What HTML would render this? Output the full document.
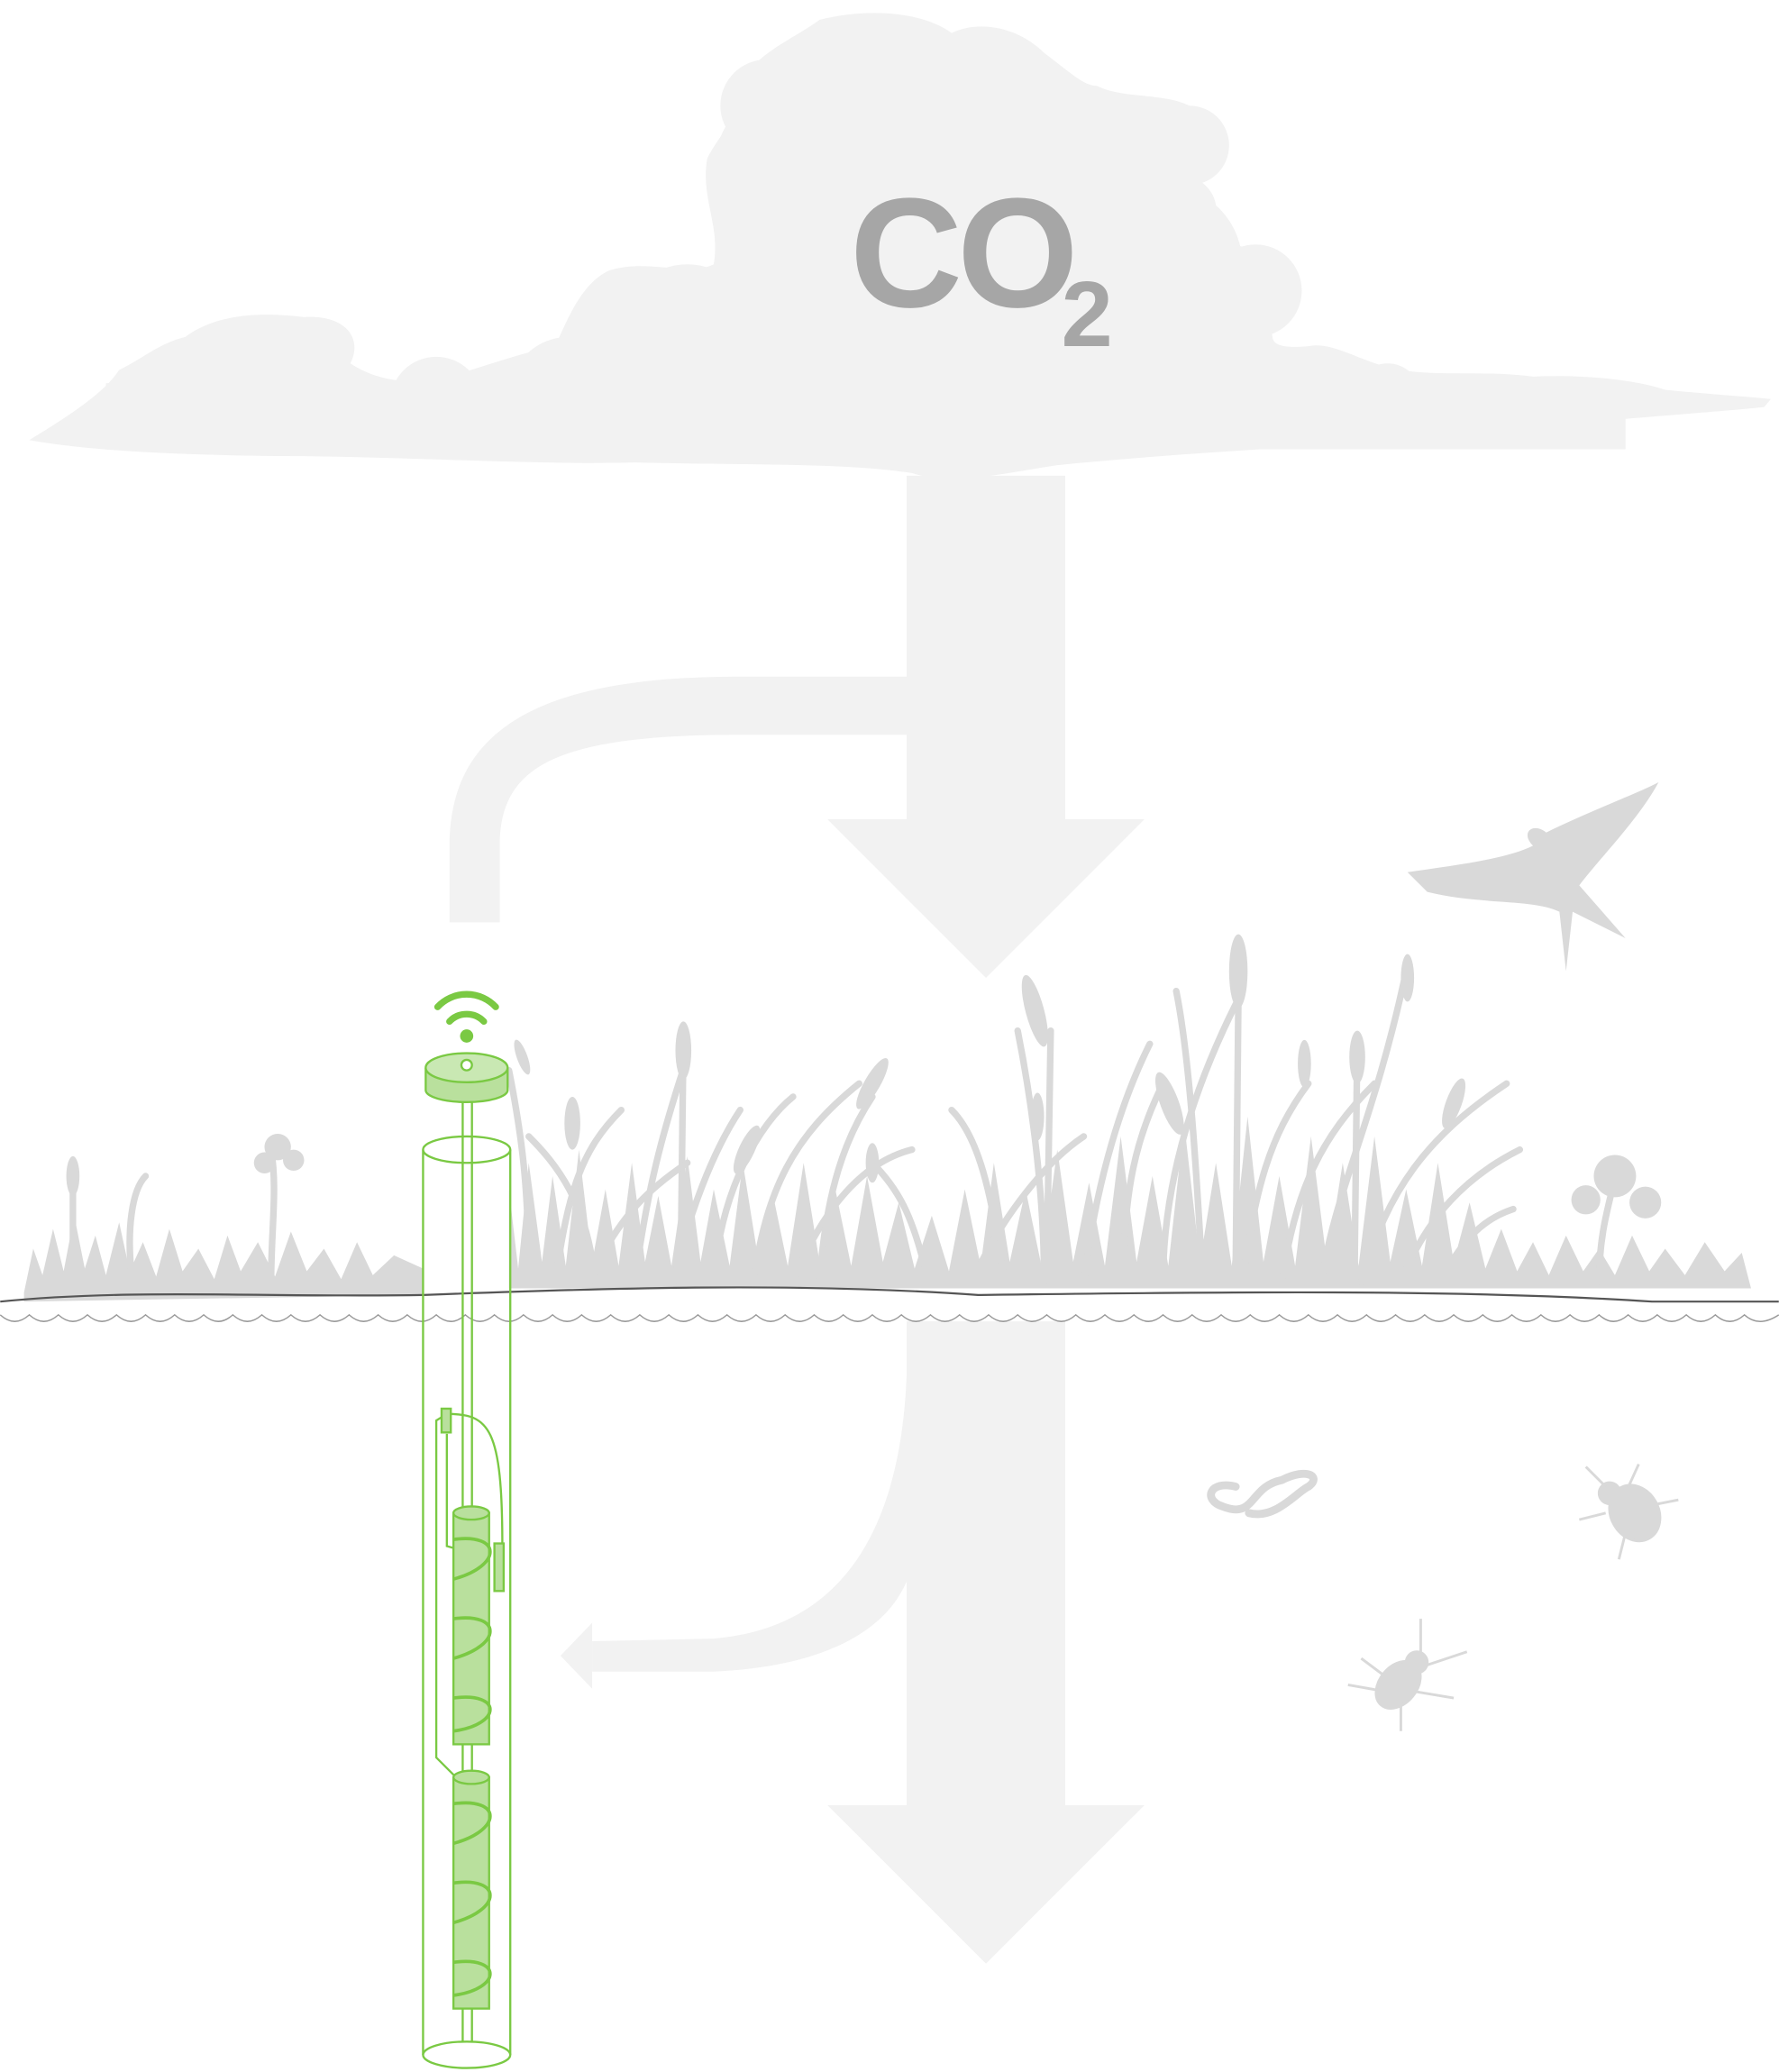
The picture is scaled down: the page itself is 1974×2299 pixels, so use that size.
<!DOCTYPE html>
<html><head><meta charset="utf-8"><style>
html,body{margin:0;padding:0;background:#fff;}
svg{display:block;}
</style></head><body>
<svg width="1974" height="2299" viewBox="0 0 1346 1568" xmlns="http://www.w3.org/2000/svg">
<!-- cloud -->
<g fill="#f2f2f2">
<path d="M22,333 C60,310 80,295 90,280 C110,270 120,260 140,255 C160,240 190,235 230,240 C260,238 275,255 265,275 C280,285 300,290 320,288 C350,285 380,270 420,262 C430,240 440,215 460,205 C490,195 520,210 540,200 C545,170 530,150 535,120 C545,100 560,90 555,70 C570,40 600,30 620,15 C660,5 700,10 720,25 C740,15 770,20 790,40 C810,55 820,65 830,65 C850,75 880,70 900,80 C920,95 925,120 905,135 C930,150 920,175 905,185 C950,180 980,200 970,230 C960,255 955,265 990,262 C1010,258 1030,275 1060,280 C1090,285 1120,280 1160,285 C1200,283 1240,288 1260,295 C1290,298 1320,300 1340,302 L1335,308 C1300,312 1200,318 1100,330 C1000,338 900,342 800,352 C760,358 720,368 690,358 C640,350 560,352 480,350 C400,352 300,345 200,345 C120,344 60,340 22,333 Z"/>
<circle cx="610" cy="130" r="70"/><circle cx="700" cy="100" r="75"/><circle cx="800" cy="140" r="75"/><circle cx="880" cy="200" r="60"/>
<circle cx="520" cy="250" r="50"/><circle cx="600" cy="240" r="60"/><circle cx="700" cy="230" r="80"/><circle cx="820" cy="240" r="70"/>
<circle cx="200" cy="290" r="45"/><circle cx="330" cy="305" r="35"/><circle cx="430" cy="300" r="45"/><circle cx="1050" cy="300" r="25"/>
<circle cx="580" cy="80" r="35"/><circle cx="900" cy="110" r="30"/><circle cx="950" cy="220" r="35"/>
<rect x="80" y="290" width="1150" height="50"/>
</g>
<text x="643" y="232" font-family="Liberation Sans, sans-serif" font-weight="bold" font-size="118" fill="#a6a6a6" letter-spacing="-4">CO</text>
<text x="803" y="262" font-family="Liberation Sans, sans-serif" font-weight="bold" font-size="70" fill="#a6a6a6">2</text>
<!-- top arrow -->
<g fill="#f2f2f2">
<rect x="686" y="360" width="120" height="262"/>
<polygon points="626,620 866,620 746,740"/>
<path d="M686,512 L560,512 C420,512 340,545 340,640 L340,698 L378,698 L378,640 C378,580 420,556 560,556 L686,556 Z"/>
<rect x="686" y="1000" width="120" height="368"/>
<polygon points="626,1366 866,1366 746,1486"/>
<path d="M686,1000 C690,1120 660,1230 540,1240 L448,1242 L448,1265 L540,1265 C690,1258 690,1180 692,1175 L720,1000 Z"/>
<polygon points="448,1228 448,1278 424,1253"/>
</g>
<!-- vegetation -->
<g fill="#d9d9d9" stroke="none">
<path d="M18,978 L25,945 32,965 40,930 48,962 56,920 64,960 72,935 80,965 90,925 98,962 108,940 118,966 128,930 138,962 150,945 162,968 172,935 182,962 195,940 208,966 220,932 232,962 245,945 258,968 270,940 282,965 298,950 320,960 320,980 18,985Z"/>
<path d="M385,975 L385,900 392,960 400,880 410,955 418,890 428,958 438,870 448,955 458,900 468,958 478,880 488,955 498,905 508,958 520,875 530,955 540,900 552,958 562,880 574,955 585,905 596,958 608,880 620,955 632,900 644,958 656,890 668,955 680,910 692,960 705,920 718,962 730,900 742,958 752,880 764,955 776,900 788,958 800,870 812,955 824,895 836,958 848,860 860,955 872,890 884,958 896,850 908,955 920,880 932,958 944,845 956,955 968,890 980,958 992,860 1004,955 1016,880 1028,958 1040,860 1052,955 1064,900 1076,958 1088,880 1100,955 1112,910 1124,960 1136,930 1148,962 1160,940 1172,965 1185,935 1198,962 1210,945 1222,965 1235,935 1248,962 1260,945 1275,965 1290,940 1305,962 1318,948 1325,975Z"/>
</g>
<g fill="none" stroke="#d9d9d9" stroke-width="5" stroke-linecap="round">
<path d="M400,970 C400,900 395,860 385,810"/><path d="M420,970 C430,900 440,870 470,840"/><path d="M450,970 C445,910 420,880 400,860"/>
<path d="M480,970 C490,900 500,860 520,800"/><path d="M510,970 C520,920 540,870 560,840"/><path d="M540,970 C545,900 575,850 600,830"/>
<path d="M570,970 C580,900 600,860 650,820"/><path d="M600,970 C620,920 650,880 690,870"/><path d="M620,970 C625,900 640,860 660,830"/>
<path d="M760,970 C750,900 740,860 720,840"/><path d="M790,970 C790,900 780,830 770,780"/><path d="M820,970 C830,890 850,830 870,790"/>
<path d="M850,970 C850,900 860,860 880,820"/><path d="M880,970 C880,900 900,830 935,760"/><path d="M910,970 C905,880 900,800 890,750"/>
<path d="M940,970 C950,900 960,860 990,820"/><path d="M970,970 C980,900 1000,860 1040,820"/><path d="M1000,970 C1010,900 1040,850 1065,730"/>
<path d="M1030,970 C1050,900 1080,860 1140,820"/><path d="M1060,970 C1080,920 1110,890 1150,870"/><path d="M1090,970 C1110,930 1130,920 1145,915"/>
<path d="M935,960 L937,760"/><path d="M1025,960 L1027,790"/><path d="M515,960 L517,790"/><path d="M792,960 L795,780"/>
<path d="M100,970 C95,930 100,900 110,890"/><path d="M55,970 L55,890"/><path d="M205,970 C205,930 210,900 205,870"/>
<path d="M1210,970 C1210,940 1215,920 1220,900"/>
<path d="M700,960 C690,920 680,900 660,880"/><path d="M740,960 C760,920 790,880 820,860"/><path d="M450,960 C470,920 490,900 520,880"/>
</g>
<g fill="#d9d9d9">
<ellipse cx="517" cy="795" rx="6" ry="22"/><ellipse cx="937" cy="735" rx="7" ry="28"/>
<ellipse cx="1027" cy="800" rx="6" ry="20"/><ellipse cx="783" cy="765" rx="7" ry="28" transform="rotate(-15 783 765)"/>
<ellipse cx="660" cy="820" rx="6" ry="22" transform="rotate(30 660 820)"/><ellipse cx="565" cy="870" rx="6" ry="20" transform="rotate(25 565 870)"/>
<ellipse cx="433" cy="850" rx="6" ry="20"/><ellipse cx="885" cy="835" rx="7" ry="25" transform="rotate(-20 885 835)"/>
<ellipse cx="987" cy="805" rx="5" ry="18"/><ellipse cx="1065" cy="740" rx="5" ry="18"/>
<ellipse cx="1100" cy="835" rx="6" ry="20" transform="rotate(20 1100 835)"/><ellipse cx="55" cy="890" rx="5" ry="15"/>
<ellipse cx="660" cy="880" rx="5" ry="15"/><ellipse cx="785" cy="845" rx="5" ry="18"/><ellipse cx="395" cy="800" rx="4" ry="14" transform="rotate(-20 395 800)"/>
<circle cx="210" cy="868" r="10"/><circle cx="200" cy="880" r="8"/><circle cx="222" cy="878" r="8"/>
<circle cx="1222" cy="890" r="16"/><circle cx="1200" cy="908" r="11"/><circle cx="1245" cy="910" r="12"/>
</g>
<!-- bird -->
<path fill="#d9d9d9" d="M1065,660 C1100,655 1140,650 1160,640 C1150,630 1160,622 1170,630 C1200,615 1240,600 1255,592 C1240,620 1210,650 1195,670 L1230,710 L1190,690 L1185,735 L1180,690 C1160,680 1120,685 1080,675 Z"/>
<!-- ground line -->
<path d="M0,985 C100,975 200,982 320,980 C450,975 600,970 740,980 C900,978 1100,975 1250,985 L1346,985" fill="none" stroke="#555" stroke-width="1.5"/>
<path d="M0,995 Q11,1005 22,995 Q33,1005 44,995 Q55,1005 66,995 Q77,1005 88,995 Q99,1005 110,995 Q121,1005 132,995 Q143,1005 154,995 Q165,1005 176,995 Q187,1005 198,995 Q209,1005 220,995 Q231,1005 242,995 Q253,1005 264,995 Q275,1005 286,995 Q297,1005 308,995 Q319,1005 330,995 Q341,1005 352,995 Q363,1005 374,995 Q385,1005 396,995 Q407,1005 418,995 Q429,1005 440,995 Q451,1005 462,995 Q473,1005 484,995 Q495,1005 506,995 Q517,1005 528,995 Q539,1005 550,995 Q561,1005 572,995 Q583,1005 594,995 Q605,1005 616,995 Q627,1005 638,995 Q649,1005 660,995 Q671,1005 682,995 Q693,1005 704,995 Q715,1005 726,995 Q737,1005 748,995 Q759,1005 770,995 Q781,1005 792,995 Q803,1005 814,995 Q825,1005 836,995 Q847,1005 858,995 Q869,1005 880,995 Q891,1005 902,995 Q913,1005 924,995 Q935,1005 946,995 Q957,1005 968,995 Q979,1005 990,995 Q1001,1005 1012,995 Q1023,1005 1034,995 Q1045,1005 1056,995 Q1067,1005 1078,995 Q1089,1005 1100,995 Q1111,1005 1122,995 Q1133,1005 1144,995 Q1155,1005 1166,995 Q1177,1005 1188,995 Q1199,1005 1210,995 Q1221,1005 1232,995 Q1243,1005 1254,995 Q1265,1005 1276,995 Q1287,1005 1298,995 Q1309,1005 1320,995 Q1331,1005 1346,995" fill="none" stroke="#999" stroke-width="1"/>
<!-- critters -->
<g fill="none" stroke="#d9d9d9" stroke-width="6" stroke-linecap="round">
<path d="M935,1125 C915,1120 910,1135 925,1140 C950,1150 945,1125 970,1120 C990,1110 1000,1118 990,1125 C980,1130 965,1150 945,1145"/>
</g>
<g fill="#d9d9d9" stroke="#d9d9d9" stroke-width="2">
<ellipse cx="1237" cy="1145" rx="18" ry="22" transform="rotate(-30 1237 1145)"/><circle cx="1218" cy="1130" r="8"/>
<path d="M1215,1125 L1200,1110 M1230,1130 L1240,1108 M1245,1140 L1270,1135 M1230,1160 L1225,1180 M1215,1145 L1195,1150"/>
<ellipse cx="1058" cy="1275" rx="14" ry="20" transform="rotate(40 1058 1275)"/><circle cx="1072" cy="1258" r="8"/>
<path d="M1048,1280 L1020,1275 M1050,1270 L1030,1255 M1060,1285 L1060,1310 M1070,1280 L1100,1285 M1075,1255 L1075,1225 M1080,1260 L1110,1250"/>
</g>
<!-- sensor -->
<g stroke="#7ac943" stroke-width="1.6" fill="none">
<path d="M320,870 L320,1555 M386,870 L386,1555"/>
<ellipse cx="353" cy="870" rx="33" ry="10"/>
<ellipse cx="353" cy="1555" rx="33" ry="10"/>
<path d="M350,830 L350,1140 M357,830 L357,1140 M350,1320 L350,1340 M357,1320 L357,1340 M350,1520 L350,1545 M357,1520 L357,1545"/>
<path d="M338,1070 L330,1075 L330,1330 L345,1345 M338,1070 C370,1070 380,1080 380,1170 M338,1085 L338,1170 L345,1172"/>
<rect x="334" y="1066" width="7" height="18" fill="#b9e09d"/>
<rect x="374" y="1168" width="7" height="36" fill="#b9e09d"/>
<rect x="343" y="1145" width="27" height="175" fill="#b9e09d"/>
<ellipse cx="356.5" cy="1145" rx="13.5" ry="5" fill="#b9e09d"/>
<rect x="343" y="1345" width="27" height="175" fill="#b9e09d"/>
<ellipse cx="356.5" cy="1345" rx="13.5" ry="5" fill="#b9e09d"/>
<path d="M343,1165 C380,1160 380,1185 343,1195 M343,1225 C380,1220 380,1245 343,1255 M343,1285 C380,1280 380,1305 343,1310 M343,1365 C380,1360 380,1385 343,1395 M343,1425 C380,1420 380,1445 343,1455 M343,1485 C380,1480 380,1505 343,1510" stroke-width="2.5"/>
<path d="M322,808 L322,825 A31,9 0 0 0 384,825 L384,808" fill="#b9e09d"/>
<ellipse cx="353" cy="808" rx="31" ry="11" fill="#c9e8b3"/>
<circle cx="353" cy="806" r="4" fill="#fff"/>
</g>
<g fill="none" stroke="#7ac943" stroke-width="5" stroke-linecap="round">
<path d="M331,762 A30,30 0 0 1 375,762"/><path d="M340,773 A18,18 0 0 1 366,773"/>
</g>
<circle cx="353" cy="784" r="5" fill="#7ac943"/>
</svg>
</body></html>
